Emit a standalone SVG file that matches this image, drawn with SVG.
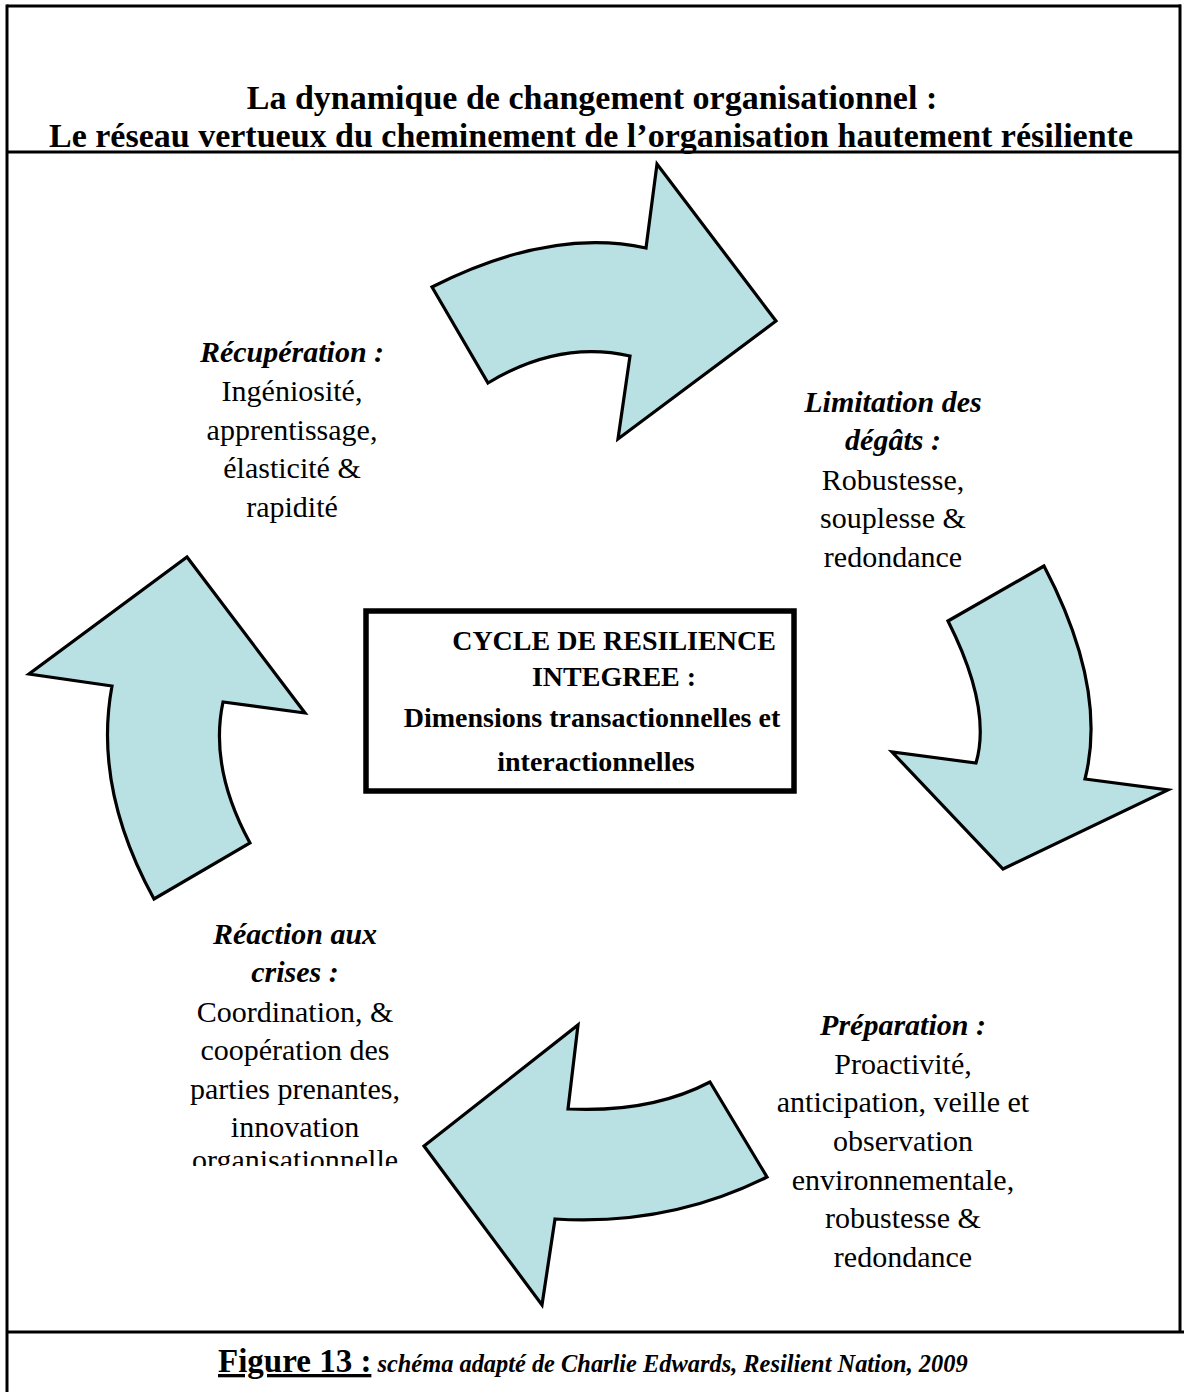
<svg xmlns="http://www.w3.org/2000/svg" width="1184" height="1392" viewBox="0 0 1184 1392">
  <defs>
    <style>
      .frame { stroke: #000; stroke-width: 3; fill: none; }
      .arrow { fill: #b9e0e3; stroke: #000; stroke-width: 3.2; stroke-linejoin: miter; }
      .title { font-family: "Liberation Serif", "Times New Roman", serif; font-size: 34px; font-weight: bold; text-anchor: middle; fill: #000; }
      .core { font-family: "Liberation Serif", "Times New Roman", serif; font-size: 28px; font-weight: bold; text-anchor: middle; fill: #000; }
      .label { font-family: "Liberation Serif", "Times New Roman", serif; font-size: 30px; text-anchor: middle; fill: #000; }
      .head { font-weight: bold; font-style: italic; }
      .foot { font-family: "Liberation Serif", "Times New Roman", serif; fill: #000; }
    </style>
    <clipPath id="reactionClip">
      <rect x="150" y="900" width="290" height="266"/>
    </clipPath>
  </defs>

  <rect width="1184" height="1392" fill="#fff"/>

  <!-- page frame: header box, body sides and footer rule -->
  <g id="frame" class="frame">
    <line x1="7" y1="6" x2="1181" y2="6"/>
    <line x1="7" y1="4.5" x2="7" y2="1392"/>
    <line x1="1180" y1="4.5" x2="1180" y2="1332"/>
    <line x1="7" y1="152" x2="1181" y2="152"/>
    <line x1="7" y1="1332" x2="1184" y2="1332"/>
  </g>

  <g id="title">
    <text class="title" x="592" y="109">La dynamique de changement organisationnel :</text>
    <text class="title" x="591" y="147">Le réseau vertueux du cheminement de l’organisation hautement résiliente</text>
  </g>

  <!-- curved block arrows forming the cycle -->
  <g id="connectors">
    <path id="arrow-top" class="arrow" d="M432,287 Q551,227 646,248 L657,164 L776,321 L618,439 L630,356 Q559,340 488,383 Z"/>
    <path id="arrow-right" class="arrow" d="M1044,566 L948,621 Q992,708 976,763 L892,752 L1003,869 L1168,790 L1085,779 Q1108,688 1044,566 Z"/>
    <path id="arrow-bottom" class="arrow" d="M578,1025 L568,1109 Q651,1113 710,1082 L767,1177 Q669,1226 555,1219 L542,1305 L424,1146 Z"/>
    <path id="arrow-left" class="arrow" d="M187,557 L305,713 L223,702 Q209,768 250,843 L154,899 Q93,788 112,686 L29,674 Z"/>
  </g>

  <g id="core">
    <rect x="366" y="611" width="428" height="180" fill="#fff" stroke="#000" stroke-width="5.5"/>
    <text class="core" x="614" y="650">CYCLE DE RESILIENCE</text>
    <text class="core" x="614" y="686">INTEGREE :</text>
    <text class="core" x="592" y="727">Dimensions transactionnelles et</text>
    <text class="core" x="596" y="771">interactionnelles</text>
  </g>

  <g id="recuperation">
    <text class="label head" x="292" y="362">Récupération :</text>
    <text class="label" x="292" y="401">Ingéniosité,</text>
    <text class="label" x="292" y="440">apprentissage,</text>
    <text class="label" x="292" y="478">élasticité &amp;</text>
    <text class="label" x="292" y="517">rapidité</text>
  </g>

  <g id="limitation">
    <text class="label head" x="893" y="412">Limitation des</text>
    <text class="label head" x="893" y="450">dégâts :</text>
    <text class="label" x="893" y="490">Robustesse,</text>
    <text class="label" x="893" y="528">souplesse &amp;</text>
    <text class="label" x="893" y="567">redondance</text>
  </g>

  <g id="preparation">
    <text class="label head" x="903" y="1035">Préparation :</text>
    <text class="label" x="903" y="1074">Proactivité,</text>
    <text class="label" x="903" y="1112">anticipation, veille et</text>
    <text class="label" x="903" y="1151">observation</text>
    <text class="label" x="903" y="1190">environnementale,</text>
    <text class="label" x="903" y="1228">robustesse &amp;</text>
    <text class="label" x="903" y="1267">redondance</text>
  </g>

  <g id="reaction" clip-path="url(#reactionClip)">
    <text class="label head" x="295" y="944">Réaction aux</text>
    <text class="label head" x="295" y="982">crises :</text>
    <text class="label" x="295" y="1022">Coordination, &amp;</text>
    <text class="label" x="295" y="1060">coopération des</text>
    <text class="label" x="295" y="1099">parties prenantes,</text>
    <text class="label" x="295" y="1137">innovation</text>
    <text class="label" x="295" y="1170">organisationnelle</text>
  </g>

  <g id="caption">
    <text class="foot" x="218" y="1372"><tspan font-size="33" font-weight="bold" text-decoration="underline">Figure 13 :</tspan><tspan font-size="24.4" font-weight="bold" font-style="italic"> schéma adapté de Charlie Edwards, Resilient Nation, 2009</tspan></text>
  </g>
</svg>
